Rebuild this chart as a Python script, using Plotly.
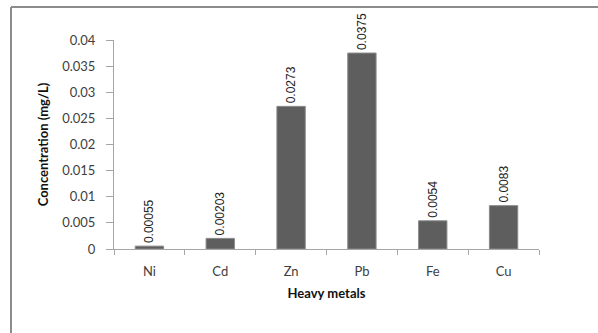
import plotly.graph_objects as go

# Heavy metal concentrations (mg/L)
metals = ["Ni", "Cd", "Zn", "Pb", "Fe", "Cu"]
concentrations = [0.00055, 0.00203, 0.0273, 0.0375, 0.0054, 0.0083]
value_labels = ["0.00055", "0.00203", "0.0273", "0.0375", "0.0054", "0.0083"]
y_ticks = [0, 0.005, 0.01, 0.015, 0.02, 0.025, 0.03, 0.035, 0.04]
y_tick_text = ["0", "0.005", "0.01", "0.015", "0.02", "0.025", "0.03", "0.035", "0.04"]

W, H = 598, 333
L, R, T, B = 114, 59, 40, 84
pw, ph = W - L - R, H - T - B

fig = go.Figure(
    go.Bar(
        x=metals,
        y=concentrations,
        width=0.4,
        marker=dict(color="#5e5e5e", line=dict(color="#8a8a8a", width=1)),
        text=value_labels,
        textposition="outside",
        textangle=-90,
        constraintext="none",
        cliponaxis=False,
        textfont=dict(family="Liberation Sans", size=12, color="#222222"),
    )
)

axis_col = "#a6a6a6"
tick_font = dict(family="Lato", size=13, color="#404040")
title_font = dict(family="Lato", size=13, color="#111111")
fig.update_layout(
    width=W,
    height=H,
    margin=dict(l=L, r=R, t=T, b=B, pad=0),
    paper_bgcolor="white",
    plot_bgcolor="white",
    showlegend=False,
    xaxis=dict(
        showline=True,
        linecolor=axis_col,
        linewidth=1,
        ticks="outside",
        tickson="boundaries",
        ticklen=5,
        tickcolor=axis_col,
        ticklabelstandoff=10,
        showgrid=False,
        tickfont=tick_font,
        title=dict(text="<b>Heavy metals</b>", font=title_font, standoff=11),
    ),
    yaxis=dict(
        range=[0, 0.04],
        tickvals=y_ticks,
        ticktext=y_tick_text,
        showline=True,
        linecolor=axis_col,
        linewidth=1,
        ticks="outside",
        ticklen=7,
        tickcolor=axis_col,
        ticklabelstandoff=8,
        showgrid=False,
        zeroline=False,
        tickfont=tick_font,
        title=dict(text="<b>Concentration (mg/L)</b>", font=title_font, standoff=10),
    ),
)

# Outer chart frame: left and top edges
x_left = (11 - L) / pw
y_top = (H - B - 7) / ph
y_bottom = (H - B - H) / ph
x_right = (W - L) / pw
frame = dict(color="#8c8c8c", width=2)
fig.add_shape(type="line", xref="paper", yref="paper",
              x0=x_left, x1=x_left, y0=y_bottom, y1=y_top, line=frame)
fig.add_shape(type="line", xref="paper", yref="paper",
              x0=x_left, x1=x_right, y0=y_top, y1=y_top, line=frame)

fig.write_html("out.html")
